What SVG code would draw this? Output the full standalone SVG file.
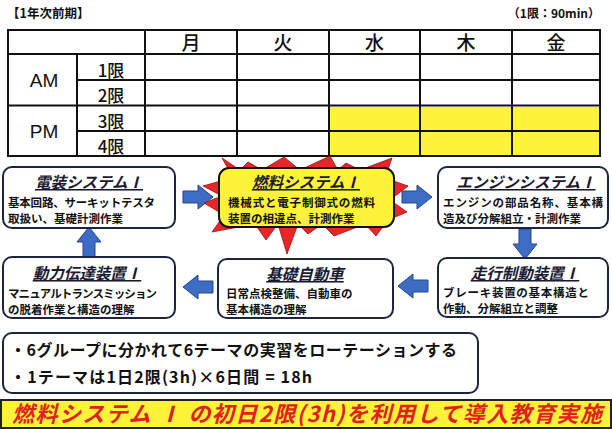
<svg xmlns="http://www.w3.org/2000/svg" width="612" height="429" viewBox="0 0 612 429">
<defs>
<style>
.jp{font-family:"Noto Sans CJK JP","Liberation Sans",sans-serif;font-weight:bold;fill:#111}
.jn{font-family:"Noto Sans CJK JP","Liberation Sans",sans-serif;font-weight:500;fill:#111}
.tb{font-family:"Liberation Sans","Noto Sans CJK JP",sans-serif;fill:#111}
.ttl{font-family:"Noto Sans CJK JP",sans-serif;font-weight:bold;font-style:italic;font-size:15.5px;fill:#1a1a33;text-decoration:underline}
.body{font-family:"Noto Sans CJK JP",sans-serif;font-weight:bold;font-size:11.5px;fill:#111}
.box{fill:#fff;stroke:#1b2540;stroke-width:2}
.grid{stroke:#111;stroke-width:2;fill:none}
.arr{fill:#3d6cc4;stroke:#24468a;stroke-width:1}
</style>
<path id="ar" d="M-15,-6 H0 V-12 L15,0 L0,12 V6 H-15 Z"/>
</defs>
<rect width="612" height="429" fill="#fff"/>

<g id="table">
<text class="jp" x="7" y="18" font-size="12.5">【1年次前期】</text>
<text class="jp" x="600" y="18" font-size="12" text-anchor="end">（1限：90min）</text>
<rect x="329" y="107" width="271" height="49" fill="#fff23a"/>
<rect class="grid" x="8" y="30" width="592" height="126"/>
<line class="grid" x1="8" y1="54" x2="600" y2="54"/>
<line class="grid" x1="77" y1="80" x2="600" y2="80" stroke="#1a2040"/>
<line class="grid" x1="8" y1="105.5" x2="600" y2="105.5" stroke-width="3.5"/>
<line class="grid" x1="77" y1="131" x2="600" y2="131"/>
<line class="grid" x1="77" y1="54" x2="77" y2="156"/>
<line class="grid" x1="145" y1="30" x2="145" y2="156"/>
<line class="grid" x1="237" y1="30" x2="237" y2="156"/>
<line class="grid" x1="329" y1="30" x2="329" y2="156"/>
<line class="grid" x1="420" y1="30" x2="420" y2="156"/>
<line class="grid" x1="512" y1="30" x2="512" y2="156"/>
<g class="jn" font-size="19" text-anchor="middle">
<text x="191" y="50">月</text>
<text x="283" y="50">火</text>
<text x="374.5" y="50">水</text>
<text x="466" y="50">木</text>
<text x="556" y="50">金</text>
</g>
<g class="tb" font-size="19" text-anchor="middle">
<text x="44" y="87">AM</text>
<text x="44" y="138">PM</text>
</g>
<g class="jn" font-size="17" text-anchor="middle">
<text x="111" y="77">1限</text>
<text x="111" y="102">2限</text>
<text x="111" y="128">3限</text>
<text x="111" y="153">4限</text>
</g>
</g>

<g id="connectors">
<use href="#ar" class="arr" transform="translate(198,197)"/>
<use href="#ar" class="arr" transform="translate(417,197)"/>
<use href="#ar" class="arr" transform="translate(525,244) rotate(90)"/>
<use href="#ar" class="arr" transform="translate(413,286) rotate(180)"/>
<use href="#ar" class="arr" transform="translate(198,287) rotate(180)"/>
<use href="#ar" class="arr" transform="translate(89,242) rotate(-90)"/>
</g>

<g id="denso">
<rect class="box" x="3" y="167" width="172" height="61" rx="9"/>
<text class="ttl" x="89" y="188" text-anchor="middle">電装システムⅠ</text>
<text class="body" x="8" y="207" textLength="147">基本回路、サーキットテスタ</text>
<text class="body" x="8" y="223">取扱い、基礎計測作業</text>
</g>

<g id="nenryo">
<path fill="#e8262a" stroke="#9a1010" stroke-width="0.8" d="M230,172 L222,158 L240,170 L248,162 L262,170 L284,157 L300,170 L330,156 L338,170 L346,163 L360,170 L392,158 L385,178 L408,186 L390,200 L407,212 L388,220 L376,236 L365,224 L334,236 L322,224 L308,234 L298,224 L287,254 L278,224 L266,240 L255,224 L212,232 L224,215 L204,203 L222,196 L203,186 L224,180 Z"/>
<rect x="219" y="168" width="175" height="59" rx="10" fill="#fff23a" stroke="#111" stroke-width="2"/>
<text class="ttl" x="306" y="188" text-anchor="middle">燃料システムⅠ</text>
<text class="body" x="228" y="207" textLength="147">機械式と電子制御式の燃料</text>
<text class="body" x="228" y="223">装置の相違点、計測作業</text>
</g>

<g id="engine">
<rect class="box" x="438" y="167" width="170" height="61" rx="9"/>
<text class="ttl" x="526" y="188" text-anchor="middle">エンジンシステムⅠ</text>
<text class="body" x="443" y="207" textLength="160">エンジンの部品名称、基本構</text>
<text class="body" x="443" y="223">造及び分解組立・計測作業</text>
</g>

<g id="soko">
<rect class="box" x="438" y="258" width="170" height="59" rx="9"/>
<text class="ttl" x="525" y="279" text-anchor="middle">走行制動装置Ⅰ</text>
<text class="body" x="443" y="297" textLength="146">ブレーキ装置の基本構造と</text>
<text class="body" x="443" y="313">作動、分解組立と調整</text>
</g>

<g id="kiso">
<rect class="box" x="218" y="259" width="175" height="59" rx="9"/>
<text class="ttl" x="305" y="280" text-anchor="middle">基礎自動車</text>
<text class="body" x="226" y="298">日常点検整備、自動車の</text>
<text class="body" x="226" y="314">基本構造の理解</text>
</g>

<g id="doryoku">
<rect class="box" x="3" y="257" width="172" height="61" rx="9"/>
<text class="ttl" x="87" y="279" text-anchor="middle">動力伝達装置Ⅰ</text>
<text class="body" x="8" y="298" textLength="149">マニュアルトランスミッション</text>
<text class="body" x="8" y="314">の脱着作業と構造の理解</text>
</g>

<g id="info">
<rect class="box" x="3" y="333" width="475" height="60" rx="9"/>
<text class="jp" x="10" y="356" font-size="16" textLength="447">・6グループに分かれて6テーマの実習をローテーションする</text>
<text class="jp" x="10" y="383" font-size="16" textLength="302">・1テーマは1日2限(3h)×6日間 = 18h</text>
</g>

<g id="banner">
<rect x="1" y="400" width="610" height="28" fill="#fff23a" stroke="#222" stroke-width="2"/>
<text x="12" y="422" font-family="Noto Sans CJK JP,sans-serif" font-weight="bold" font-style="italic" font-size="22" fill="#e02020" textLength="590">燃料システム Ⅰ の初日2限(3h)を利用して導入教育実施</text>
</g>
</svg>
